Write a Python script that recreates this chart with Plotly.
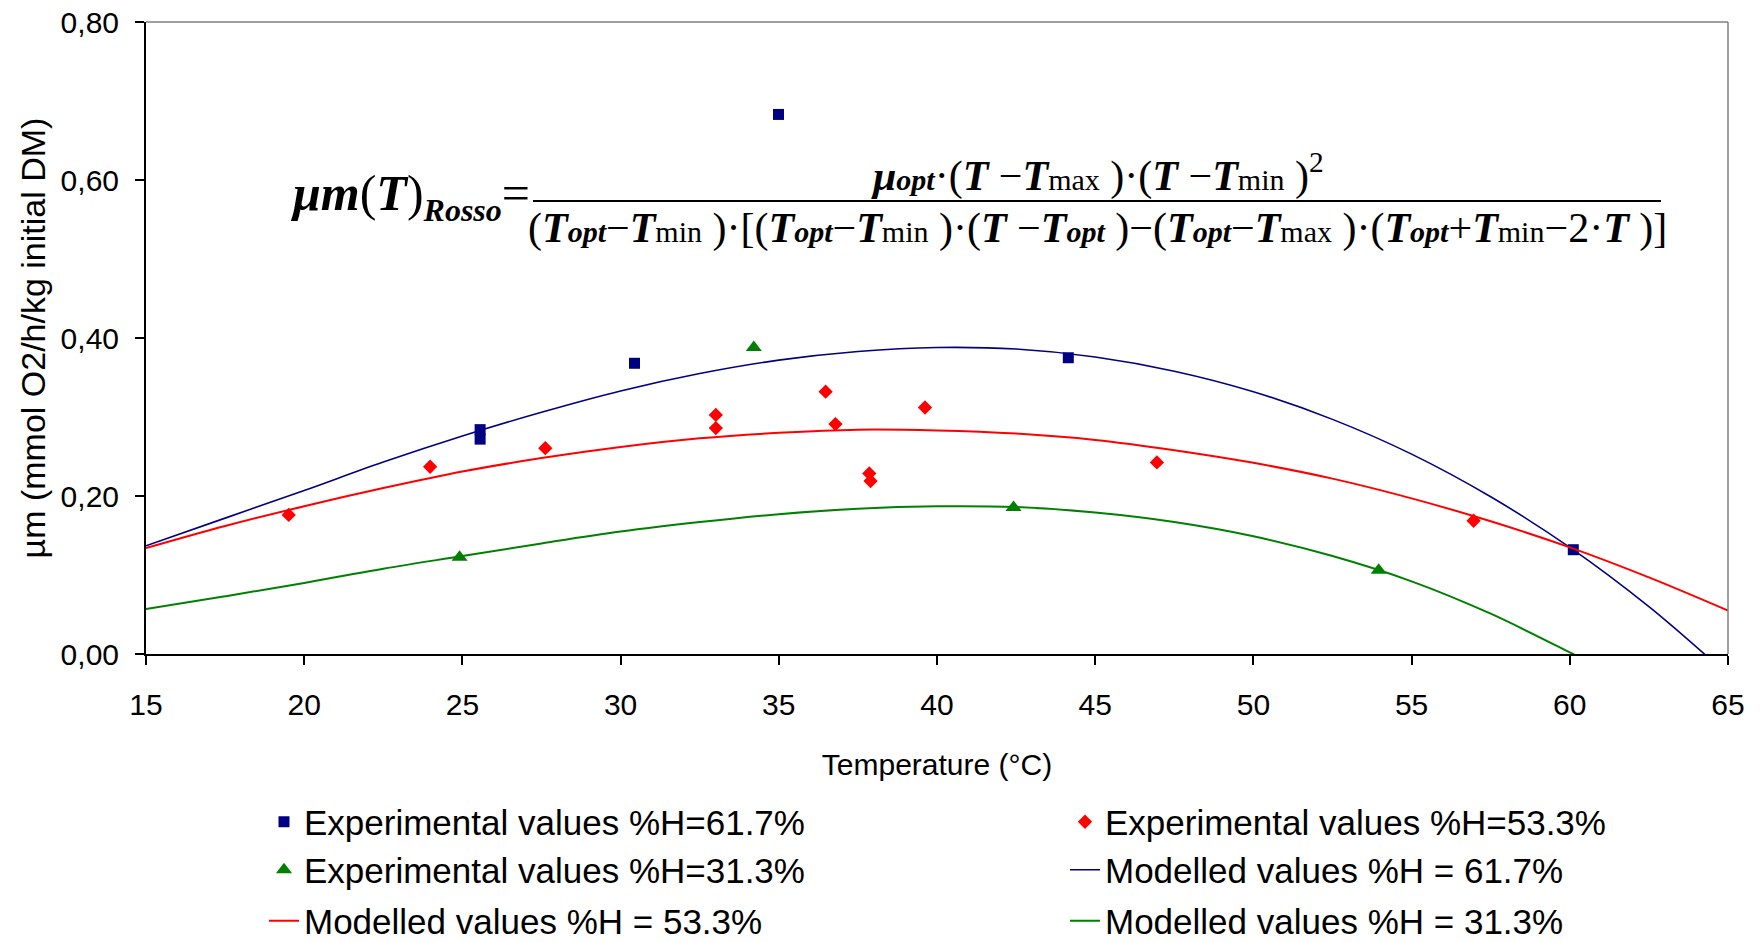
import plotly.graph_objects as go

# ---------------- data ----------------
x_ticks = [15, 20, 25, 30, 35, 40, 45, 50, 55, 60, 65]
y_ticks = [0.0, 0.2, 0.4, 0.6, 0.8]

exp617_T = [25.56, 25.56, 30.44, 34.99, 44.15, 60.11]
exp617_v = [0.284, 0.272, 0.368, 0.683, 0.375, 0.132]

exp533_T = [19.51, 23.98, 27.62, 33.01, 33.01, 36.48, 36.79, 37.86, 37.90, 39.62, 46.95, 56.96]
exp533_v = [0.176, 0.237, 0.2605, 0.3026, 0.286, 0.332, 0.291, 0.2286, 0.219, 0.312, 0.2425, 0.1687]

exp313_T = [24.91, 34.21, 42.42, 53.96]
exp313_v = [0.1225, 0.388, 0.1856, 0.106]

mod617_T = [15, 17.5, 20, 22.5, 25, 27.5, 30, 32.5, 35, 37.5, 40, 42.5, 45, 47.5, 50, 52.5, 55, 57.5, 60, 62.5, 64.45]
mod617_v = [0.137, 0.172, 0.207, 0.243, 0.276, 0.306, 0.333, 0.355, 0.372, 0.383, 0.388, 0.386, 0.376, 0.358,
            0.332, 0.297, 0.253, 0.199, 0.135, 0.060, -0.007]

mod533_T = [15, 17.5, 20, 22.5, 25, 27.5, 30, 32.5, 35, 37.5, 40, 42.5, 45, 47.5, 50, 52.5, 55, 57.5, 60, 62.5, 65]
mod533_v = [0.134, 0.162, 0.187, 0.210, 0.231, 0.248, 0.262, 0.273, 0.280, 0.284, 0.283, 0.279, 0.271, 0.258,
            0.242, 0.222, 0.197, 0.168, 0.135, 0.097, 0.055]

mod313_T = [15, 17.5, 20, 22.5, 25, 27.5, 30, 32.5, 35, 37.5, 40, 42.5, 45, 47.5, 50, 52.5, 55, 57.5, 60.1, 60.45]
mod313_v = [0.057, 0.073, 0.090, 0.108, 0.124, 0.140, 0.155, 0.167, 0.177, 0.184, 0.187, 0.186, 0.179, 0.167,
            0.149, 0.124, 0.092, 0.051, 0.0, -0.007]

names = ["Experimental values %H=61.7%", "Experimental values %H=53.3%", "Experimental values %H=31.3%",
         "Modelled values %H = 61.7%", "Modelled values %H = 53.3%", "Modelled values %H = 31.3%"]

NAVY, RED, GREEN = "#000080", "#FF0000", "#008000"

fig = go.Figure()
fig.add_trace(go.Scatter(x=exp617_T, y=exp617_v, mode="markers", name=names[0], legend="legend",
                         marker=dict(symbol="square", size=11, color=NAVY)))
fig.add_trace(go.Scatter(x=exp533_T, y=exp533_v, mode="markers", name=names[1], legend="legend2",
                         marker=dict(symbol="diamond", size=11, color=RED)))
fig.add_trace(go.Scatter(x=exp313_T, y=exp313_v, mode="markers", name=names[2], legend="legend3",
                         marker=dict(symbol="triangle-up", size=14, color=GREEN)))
fig.add_trace(go.Scatter(x=mod617_T, y=mod617_v, mode="lines", name=names[3], legend="legend4",
                         line=dict(color=NAVY, width=1.6, shape="spline")))
fig.add_trace(go.Scatter(x=mod533_T, y=mod533_v, mode="lines", name=names[4], legend="legend5",
                         line=dict(color=RED, width=2, shape="spline")))
fig.add_trace(go.Scatter(x=mod313_T, y=mod313_v, mode="lines", name=names[5], legend="legend6",
                         line=dict(color=GREEN, width=2, shape="spline")))

# ---------------- layout helpers (pixel -> paper) ----------------
L, R, T, B = 146, 1728, 22, 654
W, H = R - L, B - T


def px(xp):
    return (xp - L) / W


def py(yp):
    return (B - yp) / H


def leg(xpix, ypix):
    return dict(x=px(xpix), y=py(ypix), xanchor="left", yanchor="middle", orientation="h",
                font=dict(size=35, family="Liberation Sans, Arial", color="black"),
                bgcolor="rgba(0,0,0,0)", borderwidth=0)


fig.update_layout(
    width=1760, height=942,
    margin=dict(l=L, r=1760 - R, t=T, b=942 - B, autoexpand=False),
    paper_bgcolor="white", plot_bgcolor="white",
    separators=", ",
    font=dict(family="Liberation Sans, Arial", color="black"),
    showlegend=True,
    xaxis=dict(range=[15, 65], tickvals=x_ticks, ticks="outside", ticklen=9, tickwidth=1.5,
               tickcolor="black", showline=True, linecolor="black", linewidth=2,
               showgrid=False, zeroline=False, tickfont=dict(size=30), ticklabelstandoff=14,
               title=dict(text="Temperature (°C)", font=dict(size=30), standoff=34)),
    yaxis=dict(range=[0, 0.8], tickvals=y_ticks, tickformat=".2f", ticks="outside", ticklen=9,
               tickwidth=1.5, tickcolor="black", showline=True, linecolor="black", linewidth=2,
               showgrid=False, zeroline=False, tickfont=dict(size=30), ticklabelstandoff=10,
               title=dict(text="µm (mmol O2/h/kg initial DM)", font=dict(size=34), standoff=5)),
    legend=leg(264, 822),
    legend2=leg(1065, 822),
    legend3=leg(264, 870),
    legend4=leg(1065, 870),
    legend5=leg(264, 921),
    legend6=leg(1065, 921),
)

# plot-area border (top and right, grey)
fig.add_shape(type="line", xref="paper", yref="paper", x0=0, x1=1, y0=1, y1=1,
              line=dict(color="#808080", width=1.5))
fig.add_shape(type="line", xref="paper", yref="paper", x0=1, x1=1, y0=0, y1=1,
              line=dict(color="#808080", width=1.5))

# ---------------- Rosso formula ----------------
def Tb(s="T"):
    return "<b><i>" + s + "</i></b>"


def small(s, bold=False, size=30):
    inner = "<b><i>" + s + "</i></b>" if bold else s
    return '<span style="font-size:%dpx">' % size + inner + "</span>"


MINUS = "\u2212"
opt = small("opt", True)
tmin = small("min")
tmax = small("max")

left_txt = (Tb("μm") + "(" + Tb() + ")" + '<sub><span style="font-size:32px">' + Tb("Rosso")
            + "</span></sub>" + "=")
num_txt = (Tb("μ") + opt + "·(" + Tb() + " " + MINUS + Tb() + tmax + " )·(" + Tb() + " " + MINUS + Tb() + tmin
           + " )<sup>2</sup>")
den_txt = ("(" + Tb() + opt + MINUS + Tb() + tmin + " )·[(" + Tb() + opt + MINUS + Tb() + tmin + " )·("
           + Tb() + " " + MINUS + Tb() + opt + " )" + MINUS + "(" + Tb() + opt + MINUS + Tb() + tmax + " )·("
           + Tb() + opt + "+" + Tb() + tmin + MINUS + "2·" + Tb() + " )]")

serif = "Liberation Serif, Times New Roman, serif"
fig.add_annotation(xref="paper", yref="paper", x=px(531), y=py(164), xanchor="right", yanchor="top",
                   text=left_txt, showarrow=False, borderpad=0, font=dict(family=serif, size=50, color="black"))
fig.add_annotation(xref="paper", yref="paper", x=px(1097), y=py(201), xanchor="center", yanchor="bottom",
                   text=num_txt, showarrow=False, borderpad=0, font=dict(family=serif, size=42, color="black"))
fig.add_annotation(xref="paper", yref="paper", x=px(1097), y=py(204), xanchor="center", yanchor="top",
                   text=den_txt, showarrow=False, borderpad=0, font=dict(family=serif, size=42, color="black"))
fig.add_shape(type="line", xref="paper", yref="paper", x0=px(533), x1=px(1661), y0=py(201), y1=py(201),
              line=dict(color="black", width=2))

fig.write_html("out.html")
